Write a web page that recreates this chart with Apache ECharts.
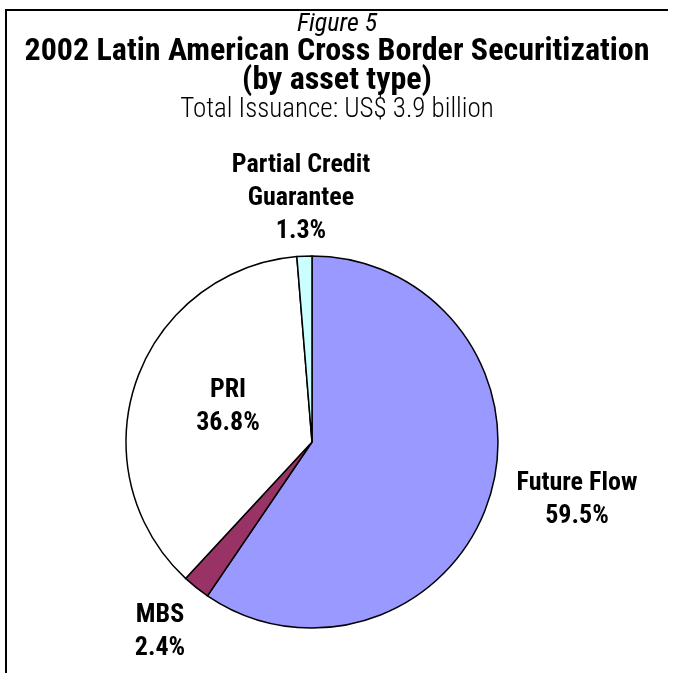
<!DOCTYPE html>
<html>
<head>
<meta charset="utf-8">
<script src="https://cdn.jsdelivr.net/npm/echarts@6/dist/echarts.min.js"></script>
<style>
  html, body { margin: 0; padding: 0; background: #fff; }
  #chart { width: 673px; height: 673px; }
</style>
</head>
<body>
<div id="chart"></div>
<script>
// Asset types, clockwise from 12 o'clock
const categories = ['Future Flow', 'MBS', 'PRI', 'Partial Credit\nGuarantee'];
// Share of total issuance, %
const shares = [59.5, 2.4, 36.8, 1.3];
const sliceColors = ['#9999FF', '#993366', '#FFFFFF', '#CCFFFF'];

// Heading lines
const figureNo = 'Figure 5';
const headline = '2002 Latin American Cross Border Securitization';
const headline2 = '(by asset type)';
const totalLine = 'Total Issuance: US$ 3.9 billion';

// Centre point of each label block, by slice index
const labelAnchor = [[577, 500], [160, 632], [228, 407], [301, 198]];

const condensed = '"Roboto Condensed", "Liberation Sans", Arial, sans-serif';

const chart = echarts.init(document.getElementById('chart'), null, { renderer: 'canvas' });

function heading(text, y, size, weight, style) {
  return {
    type: 'text', x: 337, y: y, silent: true,
    style: {
      text: text, align: 'center', verticalAlign: 'middle',
      fontFamily: condensed, fontSize: size, fontWeight: weight,
      fontStyle: style || 'normal', fill: '#000'
    }
  };
}

chart.setOption({
  animation: false,
  backgroundColor: '#ffffff',
  graphic: [
    { type: 'polyline', silent: true, shape: { points: [[6, 673], [6, 10], [668, 10]] },
      style: { stroke: '#000', lineWidth: 2, fill: null } },
    heading(figureNo, 24, 26, 'normal', 'italic'),
    heading(headline, 52, 32, 'bold'),
    heading(headline2, 81, 32, 'bold'),
    heading(totalLine, 110, 27, 300)
  ],
  series: [{
    type: 'pie',
    center: [312, 442],
    radius: 186,
    startAngle: 90,
    clockwise: true,
    data: categories.map((name, i) => ({
      name, value: shares[i], itemStyle: { color: sliceColors[i] }
    })),
    itemStyle: { borderColor: '#000', borderWidth: 1.5 },
    label: {
      show: true,
      position: 'outside',
      formatter: p => p.name + '\n' + p.value.toFixed(1) + '%',
      fontFamily: condensed,
      fontWeight: 'bold',
      fontSize: 26,
      lineHeight: 33,
      color: '#000',
      align: 'center'
    },
    labelLine: { show: false },
    labelLayout: params => {
      const a = labelAnchor[params.dataIndex];
      return { x: a[0], y: a[1], align: 'center', verticalAlign: 'middle' };
    },
    emphasis: { disabled: true }
  }]
});
</script>
</body>
</html>
